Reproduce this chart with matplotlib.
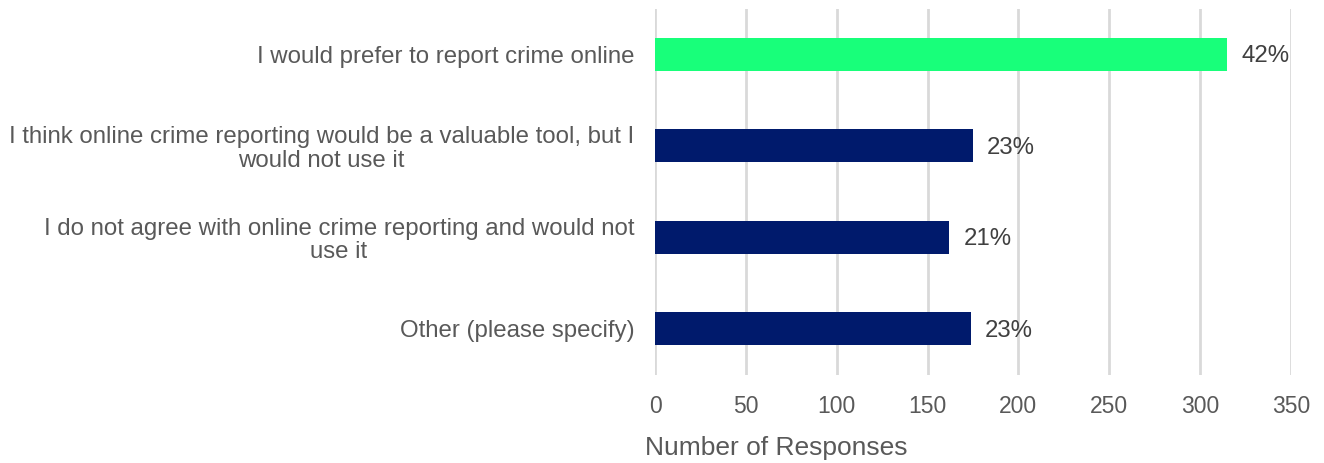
import matplotlib
matplotlib.use("Agg")
import matplotlib.pyplot as plt

plt.rcParams['font.family'] = ['Liberation Sans', 'DejaVu Sans']

categories = [
    "I would prefer to report crime online",
    "I think online crime reporting would be a valuable tool, but I\nwould not use it",
    "I do not agree with online crime reporting and would not\nuse it",
    "Other (please specify)",
]
responses = [315, 175, 162, 174]
pct_labels = ["42%", "23%", "21%", "23%"]
bar_colors = ["#18FF7A", "#001A6C", "#001A6C", "#001A6C"]
x_ticks = [0, 50, 100, 150, 200, 250, 300, 350]

W, H = 1324, 463
fig = plt.figure(figsize=(W / 100, H / 100), dpi=100)
ax = fig.add_axes([655 / W, 1 - 374.5 / H, (1291 - 655) / W, (374.5 - 8.5) / H])

ypos = list(range(len(categories)))
ax.barh(ypos, responses, height=0.36, color=bar_colors, zorder=3)

for y, v, lab in zip(ypos, responses, pct_labels):
    ax.annotate(lab, (v, y), xytext=(14, -2), textcoords="offset pixels",
                va="center", ha="left", fontsize=17.3, color="#404040")

ax.set_xlim(0, 350)
ax.set_ylim(len(categories) - 0.5, -0.5)
ax.set_xticks(x_ticks)
ax.set_xticklabels([str(t) for t in x_ticks], fontsize=16.5, color="#595959")
ax.set_yticks(ypos)
ax.set_yticklabels(categories, fontsize=17.3, color="#595959", linespacing=1.1,
                   multialignment="center")
ax.tick_params(axis="y", length=0, pad=15)
ax.tick_params(axis="x", length=0, pad=15)
ax.grid(axis="x", color="#D9D9D9", linewidth=2, zorder=0)
for s in ax.spines.values():
    s.set_visible(False)

fig.text(645 / W, 1 - 448 / H, "Number of Responses", fontsize=19,
         color="#595959", ha="left", va="center")

fig.savefig("out.png", dpi=100)
